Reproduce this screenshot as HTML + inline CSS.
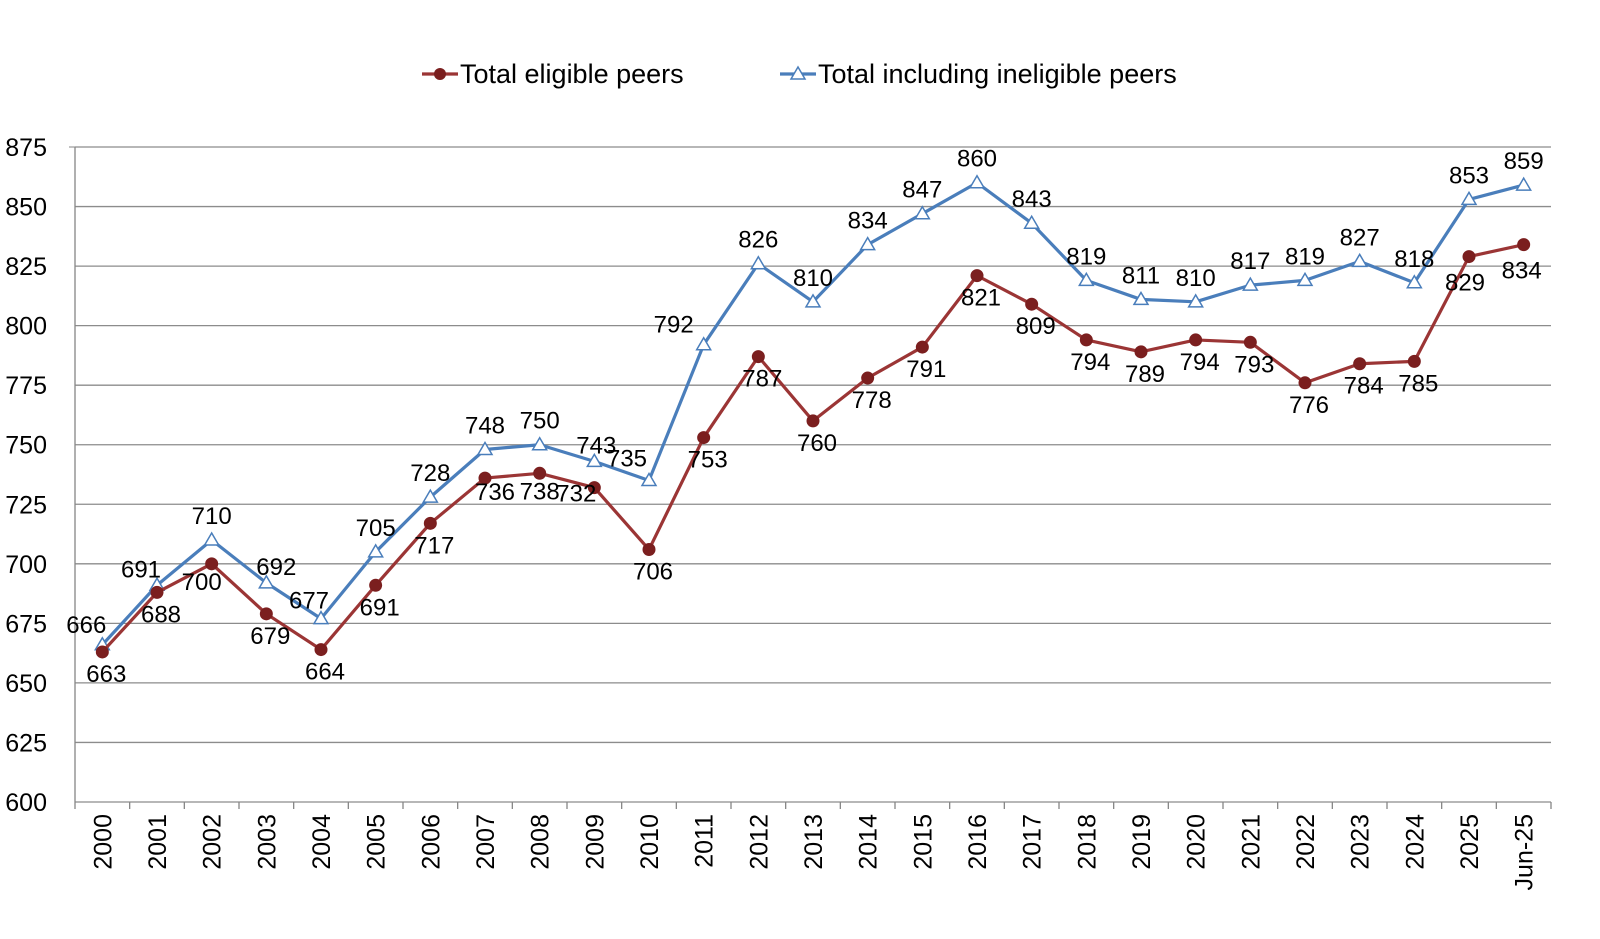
<!DOCTYPE html>
<html><head><meta charset="utf-8"><style>
html,body{margin:0;padding:0;background:#fff;}
svg{display:block;font-family:"Liberation Sans",sans-serif;}
</style></head><body>
<svg id="chart" width="1600" height="939" viewBox="0 0 1600 939"></svg>
<script>
const categories=["2000","2001","2002","2003","2004","2005","2006","2007","2008","2009","2010","2011","2012","2013","2014","2015","2016","2017","2018","2019","2020","2021","2022","2023","2024","2025","Jun-25"];
const eligible=[663,688,700,679,664,691,717,736,738,732,706,753,787,760,778,791,821,809,794,789,794,793,776,784,785,829,834];
const total=[666,691,710,692,677,705,728,748,750,743,735,792,826,810,834,847,860,843,819,811,810,817,819,827,818,853,859];
const yTicks=[600,625,650,675,700,725,750,775,800,825,850,875];
const redOff={2:[-10,26],7:[10,22],8:[0,26],9:[-18,14],25:[-4,34],26:[-2,34]};
const blueOff={0:[-16,-12],1:[-16,-8],3:[10,-8],4:[-12,-10],9:[2,-8],10:[-22,-14],11:[-30,-12]};
const ns="http://www.w3.org/2000/svg";
const svg=document.getElementById('chart');
const L=75,R=1551,T=147,B=802,ymin=600,ymax=875;
const step=(R-L)/categories.length;
function x(i){return L+step*(i+0.5);}
function y(v){return B-(v-ymin)/(ymax-ymin)*(B-T);}
function mk(tag,at,parent){const e=document.createElementNS(ns,tag);for(const k in at)e.setAttribute(k,at[k]);(parent||svg).appendChild(e);return e;}
yTicks.forEach(v=>{
  const g=mk('line',{x1:L,x2:R,y1:y(v),y2:y(v),stroke:'#8c8c8c','stroke-width':1.3});
  
  
  const t=mk('text',{x:L-28,y:y(v)+9,'text-anchor':'end','font-size':25,fill:'#000'});
  t.textContent=v;
  
  
});
const ax=mk('line',{x1:L,x2:L,y1:T,y2:B,stroke:'#868686','stroke-width':1.3});


mk('line',{x1:L-6,x2:L,y1:T,y2:T,stroke:'#868686'});
for(let i=0;i<=categories.length;i++){mk('line',{x1:L+step*i,x2:L+step*i,y1:B,y2:B+7,stroke:'#868686','stroke-width':1.3});}
categories.forEach((c,i)=>{
  const t=mk('text',{transform:`translate(${x(i)+9},${B+12}) rotate(-90)`,'text-anchor':'end','font-size':25,fill:'#000'});
  t.textContent=c;
  
  
});
function series(vals,color,marker,name){
  const p=mk('polyline',{points:vals.map((v,i)=>x(i)+','+y(v)).join(' '),fill:'none',stroke:color,'stroke-width':3.2,'stroke-linejoin':'round'});
  
  
  vals.forEach((v,i)=>{
    let m;
    if(marker==='circle'){m=mk('circle',{cx:x(i),cy:y(v),r:6,fill:'#7b1f1f',stroke:'#7b1f1f'});}
    else{const cx=x(i),cy=y(v);m=mk('polygon',{points:`${cx},${cy-7} ${cx-7},${cy+5} ${cx+7},${cy+5}`,fill:'#fff',stroke:'#4a7ebb','stroke-width':1.5});}
    
    
  });
}
series(total,'#4a7ebb','tri','total-including-ineligible');
series(eligible,'#9b3535','circle','total-eligible');
eligible.forEach((v,i)=>{
  const o=redOff[i]||[4,30];
  const t=mk('text',{x:x(i)+o[0],y:y(v)+o[1],'text-anchor':'middle','font-size':24,fill:'#000'});
  t.textContent=v;
  
  
});
total.forEach((v,i)=>{
  const o=blueOff[i]||[0,-16];
  const t=mk('text',{x:x(i)+o[0],y:y(v)+o[1],'text-anchor':'middle','font-size':24,fill:'#000'});
  t.textContent=v;
  
  
});
const lg=mk('g',{});


const l1=mk('g',{},lg);


mk('line',{x1:422,x2:458,y1:74,y2:74,stroke:'#9b3535','stroke-width':3.2},l1);
mk('circle',{cx:440,cy:74,r:6,fill:'#7b1f1f'},l1);
const lt1=mk('text',{x:460,y:83,'font-size':27,fill:'#000'},l1);lt1.textContent='Total eligible peers';
const l2=mk('g',{},lg);


mk('line',{x1:780,x2:816,y1:74,y2:74,stroke:'#4a7ebb','stroke-width':3.2},l2);
mk('polygon',{points:'798,67 791,79 805,79',fill:'#fff',stroke:'#4a7ebb','stroke-width':1.5},l2);
const lt2=mk('text',{x:818,y:83,'font-size':27,fill:'#000'},l2);lt2.textContent='Total including ineligible peers';
</script>
</body></html>
